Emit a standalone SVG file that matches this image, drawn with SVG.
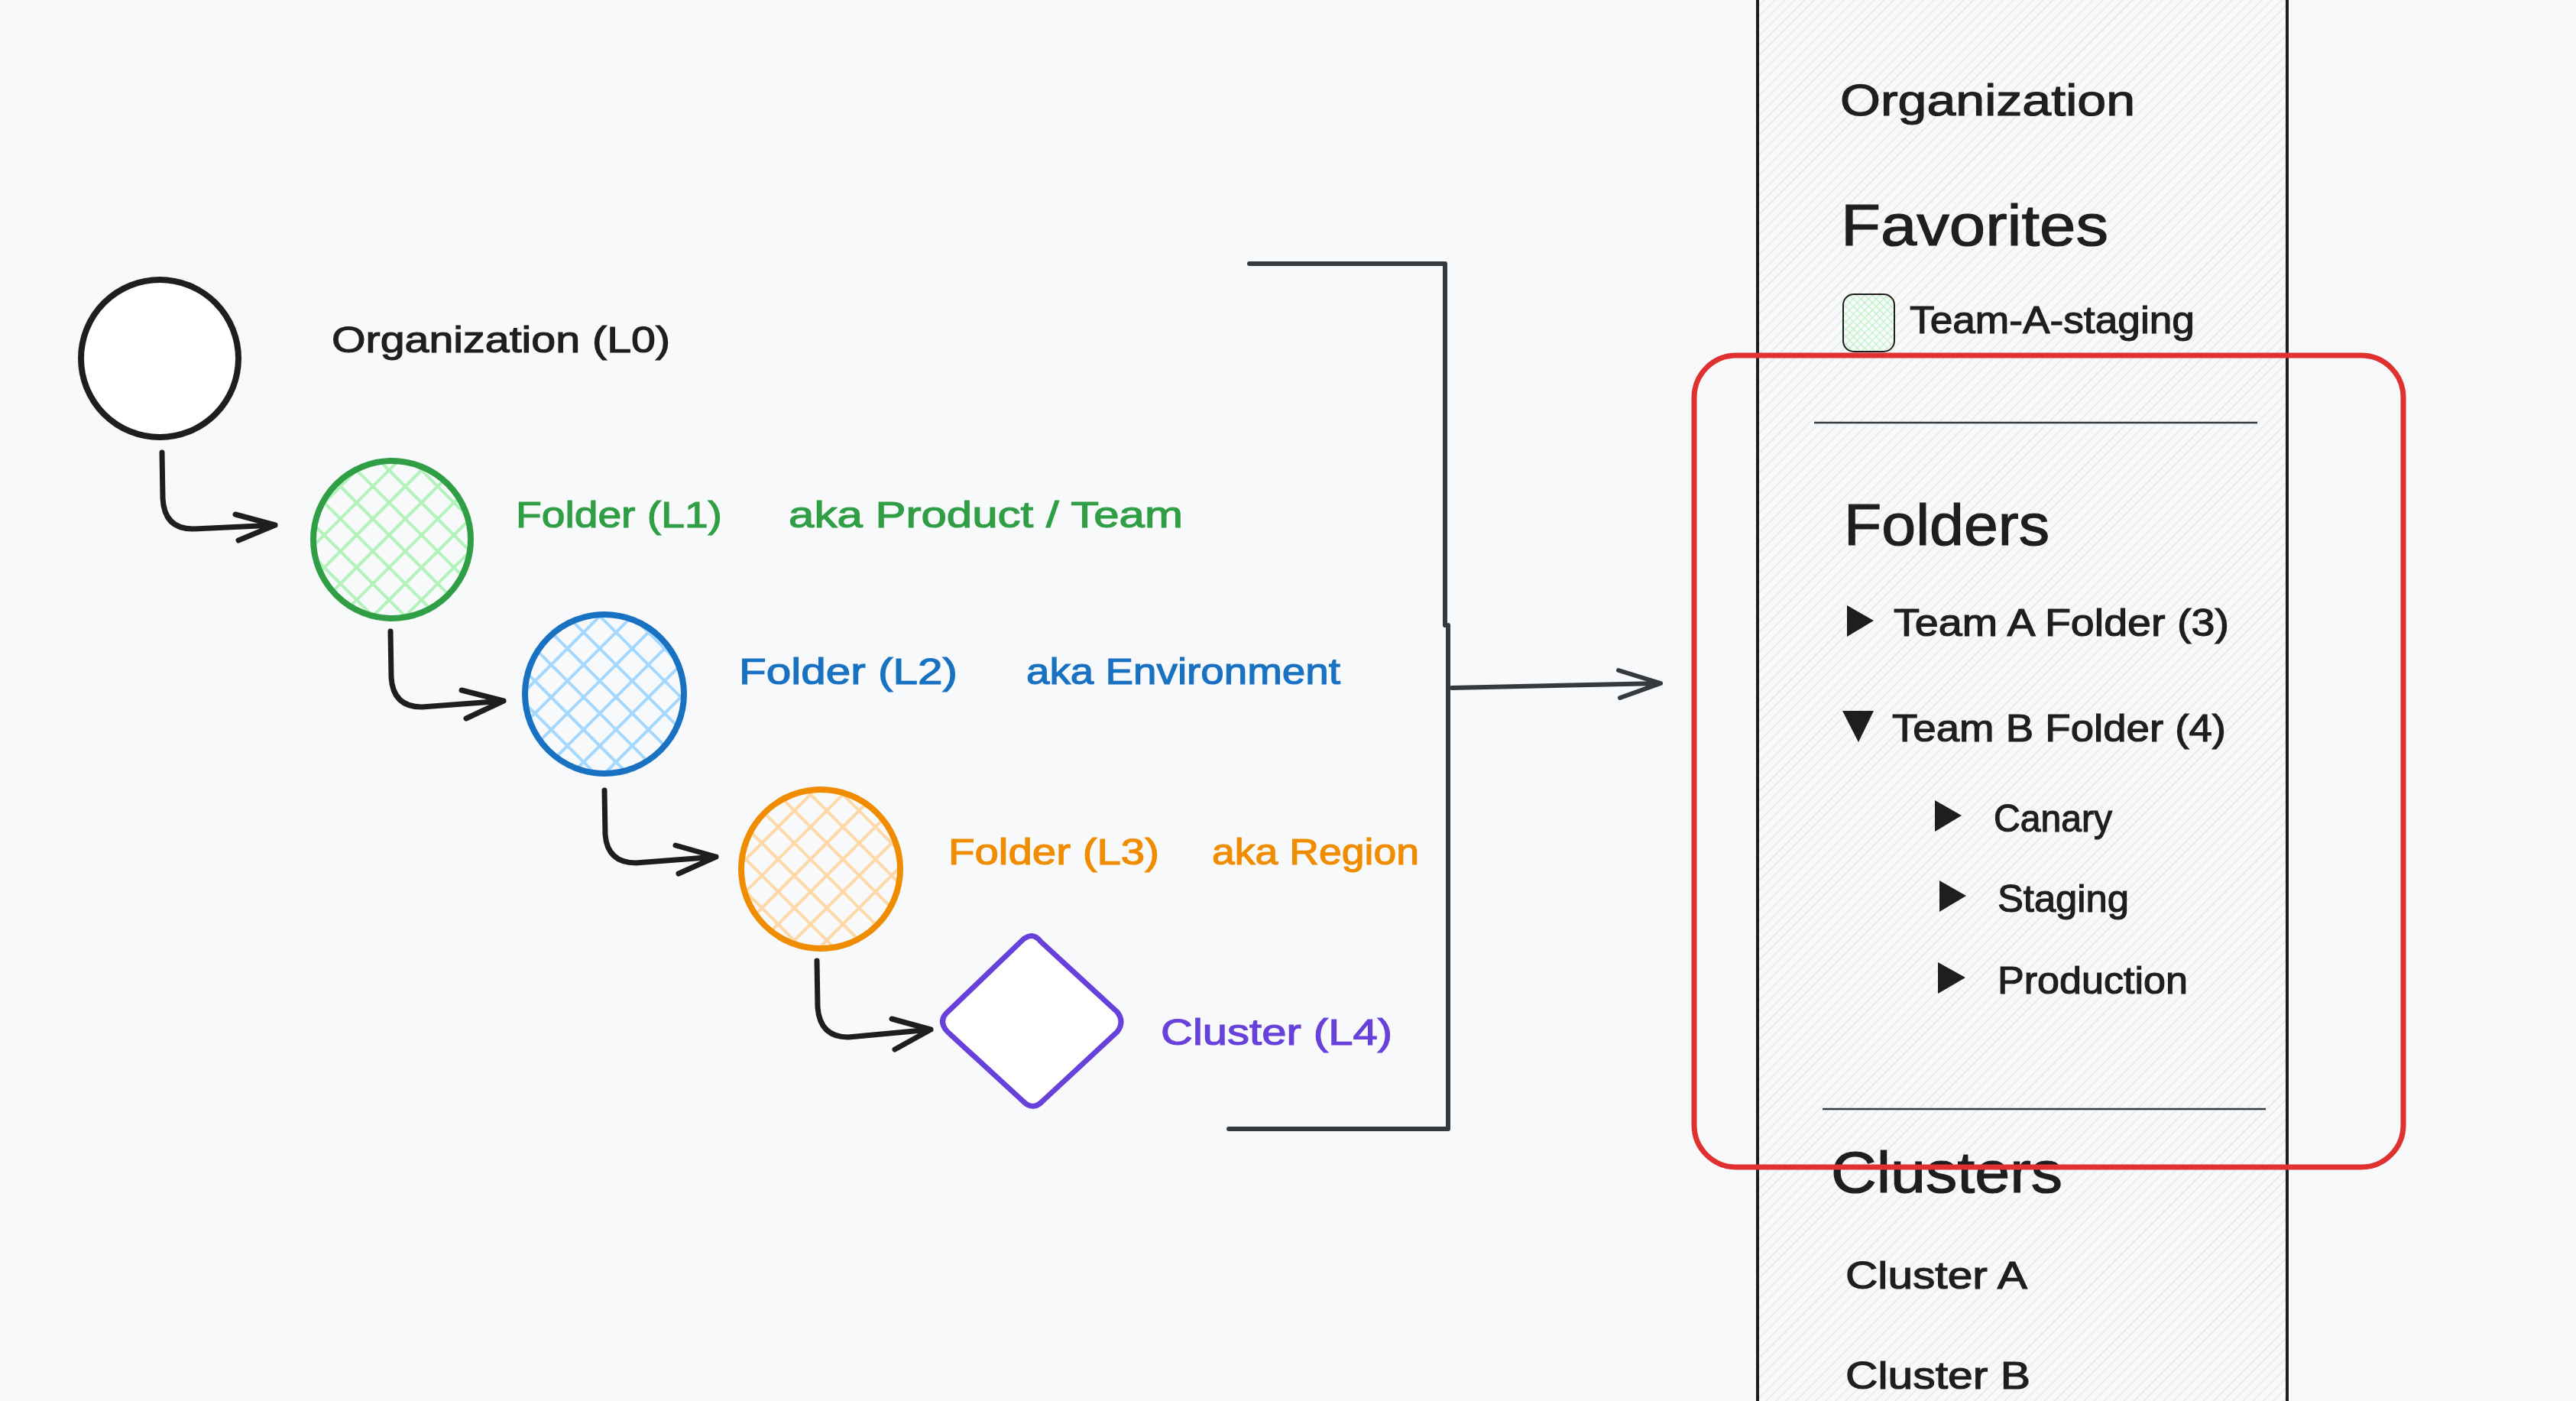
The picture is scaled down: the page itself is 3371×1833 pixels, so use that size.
<svg xmlns="http://www.w3.org/2000/svg" width="3371" height="1833" viewBox="0 0 3371 1833">
<style>
text{font-family:"Liberation Sans","Noto Sans",sans-serif;stroke-width:1.2;paint-order:stroke;}
.lbl{font-size:49px;}
.head{font-size:76px;}
.item{font-size:50px;fill:#1e1e1e;stroke:#1e1e1e;}
.k{fill:#1e1e1e;stroke:#1e1e1e;}
.g{fill:#2f9e44;stroke:#2f9e44;}
.b{fill:#1971c2;stroke:#1971c2;}
.o{fill:#f08c00;stroke:#f08c00;}
.p{fill:#6741d9;stroke:#6741d9;}
.node{stroke-width:8;}
.conn{fill:none;stroke:#1e1e1e;stroke-width:7;stroke-linecap:round;stroke-linejoin:round;}
.bracket{fill:none;stroke:#343a40;stroke-width:6;stroke-linecap:round;stroke-linejoin:round;}
.sep{stroke:#343a40;stroke-width:2.5;}
.tri{fill:#1e1e1e;}
</style>
<defs>
<pattern id="hG" patternUnits="userSpaceOnUse" width="30" height="30" patternTransform="rotate(45)"><path d="M15,0V30M0,15H30" stroke="#b2f2bb" stroke-width="4"/></pattern>
<pattern id="hB" patternUnits="userSpaceOnUse" width="30" height="30" patternTransform="rotate(45)"><path d="M15,0V30M0,15H30" stroke="#a5d8ff" stroke-width="4"/></pattern>
<pattern id="hO" patternUnits="userSpaceOnUse" width="30" height="30" patternTransform="rotate(45)"><path d="M15,0V30M0,15H30" stroke="#ffd8a8" stroke-width="4"/></pattern>
<pattern id="hS" patternUnits="userSpaceOnUse" width="7" height="7" patternTransform="rotate(45)"><path d="M3.5,0V7M0,3.5H7" stroke="#b2f2bb" stroke-width="1"/></pattern>
<pattern id="hP" patternUnits="userSpaceOnUse" width="9.2" height="20" patternTransform="rotate(45)"><path d="M4.6,0V20" stroke="#e6e8eb" stroke-width="1.6"/></pattern>
</defs>
<rect x="0" y="0" width="3371" height="1833" fill="#f8f9fa"/>

<!-- Sidebar panel -->
<g id="panel">
<rect x="2300" y="-10" width="693" height="1853" fill="#f8f9fa"/>
<rect x="2300" y="-10" width="693" height="1853" fill="url(#hP)" stroke="#1e1e1e" stroke-width="4"/>
<text class="k" x="2408" y="151" font-size="58" textLength="386" lengthAdjust="spacingAndGlyphs">Organization</text>
<text class="k head" x="2409" y="321" textLength="350" lengthAdjust="spacingAndGlyphs">Favorites</text>
<rect x="2412" y="385" width="67" height="75" rx="14" fill="#f8f9fa"/>
<rect x="2412" y="385" width="67" height="75" rx="14" fill="url(#hS)" stroke="#1e1e1e" stroke-width="2"/>
<text class="item" x="2499" y="436" font-size="48" textLength="373" lengthAdjust="spacingAndGlyphs">Team-A-staging</text>
<line class="sep" x1="2374" y1="553" x2="2954" y2="553"/>
<text class="k head" x="2413" y="713" textLength="269" lengthAdjust="spacingAndGlyphs">Folders</text>
<polygon class="tri" points="2417,792 2452,812 2417,833"/>
<text class="item" x="2478" y="832" textLength="439" lengthAdjust="spacingAndGlyphs">Team A Folder (3)</text>
<polygon class="tri" points="2411,930 2452,930 2432,971"/>
<text class="item" x="2476" y="970" textLength="437" lengthAdjust="spacingAndGlyphs">Team B Folder (4)</text>
<polygon class="tri" points="2532,1047 2567,1067 2532,1088"/>
<text class="item" x="2609" y="1088" textLength="155" lengthAdjust="spacingAndGlyphs">Canary</text>
<polygon class="tri" points="2538,1152 2573,1172 2538,1193"/>
<text class="item" x="2614" y="1193" textLength="172" lengthAdjust="spacingAndGlyphs">Staging</text>
<polygon class="tri" points="2536,1259 2572,1279 2536,1300"/>
<text class="item" x="2614" y="1300" textLength="249" lengthAdjust="spacingAndGlyphs">Production</text>
<line class="sep" x1="2385" y1="1451" x2="2965" y2="1451" stroke-width="3" stroke="#1e1e1e"/>
<text class="k head" x="2396" y="1560" textLength="303" lengthAdjust="spacingAndGlyphs">Clusters</text>
<text class="item" x="2415" y="1686" font-size="53" textLength="238" lengthAdjust="spacingAndGlyphs">Cluster A</text>
<text class="item" x="2415" y="1817" font-size="53" textLength="242" lengthAdjust="spacingAndGlyphs">Cluster B</text>
</g>

<!-- Highlight box -->
<g id="highlight">
<rect x="2217" y="465" width="928" height="1062" rx="55" fill="none" stroke="#e03131" stroke-width="7"/>
</g>

<!-- Nodes -->
<g id="org">
<circle class="node" cx="209" cy="469" r="103" fill="#ffffff" stroke="#1e1e1e"/>
<text class="k lbl" x="434" y="461" textLength="443" lengthAdjust="spacingAndGlyphs">Organization (L0)</text>
</g>
<g id="folder-l1">
<circle cx="513" cy="706" r="103" fill="url(#hG)"/>
<circle class="node" cx="513" cy="706" r="103" fill="none" stroke="#2f9e44"/>
<text class="g lbl" x="675" y="690" textLength="270" lengthAdjust="spacingAndGlyphs">Folder (L1)</text>
<text class="g lbl" x="1032" y="690" textLength="516" lengthAdjust="spacingAndGlyphs">aka Product / Team</text>
</g>
<g id="folder-l2">
<circle cx="791" cy="908" r="104" fill="url(#hB)"/>
<circle class="node" cx="791" cy="908" r="104" fill="none" stroke="#1971c2"/>
<text class="b lbl" x="967" y="895" textLength="286" lengthAdjust="spacingAndGlyphs">Folder (L2)</text>
<text class="b lbl" x="1343" y="895" textLength="411" lengthAdjust="spacingAndGlyphs">aka Environment</text>
</g>
<g id="folder-l3">
<circle cx="1074" cy="1137" r="104" fill="url(#hO)"/>
<circle class="node" cx="1074" cy="1137" r="104" fill="none" stroke="#f08c00"/>
<text class="o lbl" x="1241" y="1131" textLength="276" lengthAdjust="spacingAndGlyphs">Folder (L3)</text>
<text class="o lbl" x="1586" y="1131" textLength="271" lengthAdjust="spacingAndGlyphs">aka Region</text>
</g>
<g id="cluster-l4">
<path d="M1238,1326 L1338,1230 Q1351,1218 1362,1232 L1462,1324 Q1472,1337 1462,1350 L1365,1440 Q1352,1454 1339,1441 L1240,1350 Q1228,1337 1238,1326 Z" fill="#ffffff" stroke="#6741d9" stroke-width="7" stroke-linejoin="round"/>
<text class="p lbl" x="1519" y="1367" textLength="303" lengthAdjust="spacingAndGlyphs">Cluster (L4)</text>
</g>

<!-- Connectors -->
<g id="connectors">
<path class="conn" d="M212,592 L213,652 Q215,692 252,692 L360,687 M308,673 L360,687 L312,707"/>
<path class="conn" d="M511,826 L512,886 Q514,925 552,925 L659,917 M604,903 L659,917 L610,940"/>
<path class="conn" d="M791,1034 L792,1092 Q795,1129 832,1129 L937,1121 M884,1106 L937,1121 L888,1143"/>
<path class="conn" d="M1069,1257 L1070,1318 Q1073,1357 1110,1357 L1218,1347 M1167,1333 L1218,1347 L1171,1373"/>
<path class="bracket" d="M1635,345 H1891 V818 M1895,818 V1477 H1608"/>
<path class="bracket" stroke-width="5" d="M1900,900 L2173,894 M2118,877 L2173,894 L2120,913"/>
</g>
</svg>
